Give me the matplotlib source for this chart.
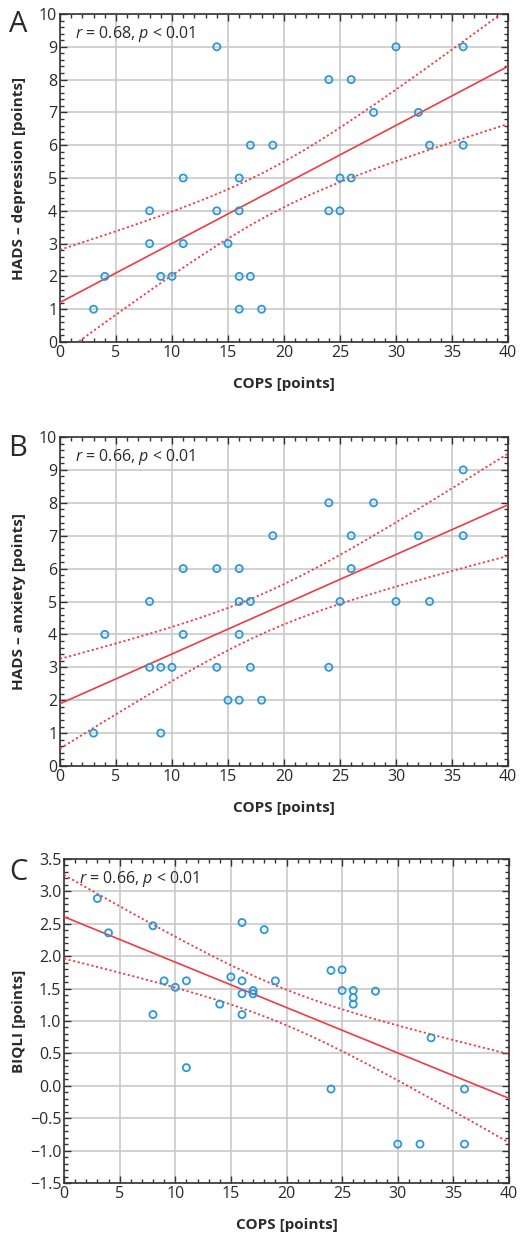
import numpy as np
import matplotlib.pyplot as plt
from matplotlib.ticker import MultipleLocator

plt.rcParams['font.family'] = ['Open Sans', 'DejaVu Sans']
plt.rcParams['mathtext.fontset'] = 'custom'
plt.rcParams['mathtext.rm'] = 'Open Sans'
plt.rcParams['mathtext.it'] = 'Open Sans:italic'

# COPS scores and the three outcome scores per patient
cops_a = [3, 4, 8, 8, 9, 10, 11, 11, 14, 14, 15, 16, 16, 16, 16, 17, 17, 18, 19,
          24, 26, 28, 30, 32, 33, 36, 36, 25, 26, 24, 25]
hads_dep = [1, 2, 4, 3, 2, 2, 5, 3, 9, 4, 3, 5, 4, 2, 1, 6, 2, 1, 6,
            8, 8, 7, 9, 7, 6, 9, 6, 5, 5, 4, 4]

cops_b = [3, 4, 8, 8, 9, 9, 10, 11, 11, 14, 14, 15, 16, 16, 16, 16, 17, 17, 18, 19,
          24, 28, 26, 32, 36, 36, 26, 25, 30, 33, 24]
hads_anx = [1, 4, 5, 3, 3, 1, 3, 6, 4, 6, 3, 2, 6, 5, 4, 2, 5, 3, 2, 7,
            8, 8, 7, 7, 9, 7, 6, 5, 5, 5, 3]

cops_c = [3, 4, 8, 8, 9, 10, 11, 11, 14, 15, 16, 16, 16, 16, 17, 17, 18, 19,
          24, 25, 25, 26, 26, 26, 28, 33, 24, 36, 30, 32, 36]
biqli = [2.89, 2.36, 2.47, 1.10, 1.62, 1.52, 1.62, 0.28, 1.26, 1.68, 2.52, 1.62, 1.42, 1.10,
         1.47, 1.42, 2.41, 1.62,
         1.78, 1.79, 1.47, 1.47, 1.36, 1.26, 1.46, 0.74, -0.05, -0.05, -0.90, -0.90, -0.90]

stat_labels = ['0.68', '0.66', '0.66']
y_labels = ['HADS \u2013 depression [points]', 'HADS \u2013 anxiety [points]', 'BIQLI [points]']
panel_letters = ['A', 'B', 'C']

T_CRIT = 2.045  # t(0.975, df=29)

RED = '#ee3b45'
BLUE = '#2b98d8'
TXT = '#2a2a2a'

W, H = 520, 1238
fig = plt.figure(figsize=(W / 100, H / 100), dpi=100)


def px_axes(x0, x1, y0, y1):
    ax = fig.add_axes([x0 / W, 1 - y1 / H, (x1 - x0) / W, (y1 - y0) / H])
    ax._px_x = (x0, x1)
    return ax


def draw_panel(ax, x, y, ylim, ymajor, yminor, ylabel, stat, yfmt):
    x = np.array(x, dtype=float)
    y = np.array(y, dtype=float)
    n = len(x)
    b, a = np.polyfit(x, y, 1)
    resid = y - (a + b * x)
    s = np.sqrt(np.sum(resid ** 2) / (n - 2))
    sxx = np.sum((x - x.mean()) ** 2)
    xs = np.linspace(0, 40, 200)
    fit = a + b * xs
    half = T_CRIT * s * np.sqrt(1 / n + (xs - x.mean()) ** 2 / sxx)

    ax.plot(xs, fit, color=RED, lw=1.2, zorder=3)
    ax.plot(xs, fit + half, color=RED, lw=1.3, ls=(0, (1.2, 1.4)), zorder=3)
    ax.plot(xs, fit - half, color=RED, lw=1.3, ls=(0, (1.2, 1.4)), zorder=3)
    ax.scatter(x, y, s=26, facecolors='none', edgecolors=BLUE, linewidths=1.3, zorder=4)

    ax.set_xlim(0, 40)
    ax.set_ylim(*ylim)
    ax.xaxis.set_major_locator(MultipleLocator(5))
    ax.xaxis.set_minor_locator(MultipleLocator(1))
    ax.yaxis.set_major_locator(MultipleLocator(ymajor))
    ax.yaxis.set_minor_locator(MultipleLocator(yminor))
    ax.yaxis.set_major_formatter(yfmt)
    ax.grid(True, which='major', color='#c9c9c9', lw=1.2, zorder=0)
    ax.set_axisbelow(True)
    ax.tick_params(which='both', direction='in', top=True, right=True,
                   colors='#333333', labelcolor=TXT, labelsize=11.5, width=1)
    ax.tick_params(which='major', length=5, pad=2)
    ax.tick_params(which='minor', length=3)
    for sp in ax.spines.values():
        sp.set_color('#333333')
        sp.set_linewidth(1.2)

    ax.set_xlabel('COPS [points]', fontsize=11, fontweight='bold', color=TXT, labelpad=12)
    ax.set_ylabel(ylabel, fontsize=11, fontweight='bold', color=TXT)
    # same y label position for every panel
    x0, x1 = ax._px_x
    ax.yaxis.set_label_coords((26 - x0) / (x1 - x0), 0.5)
    ax.text(0.033, 0.97, '$r$ = ' + stat + ', $p$ < 0.01', transform=ax.transAxes,
            ha='left', va='top', fontsize=11.5, color=TXT)
    return ax


def int_fmt(v, pos):
    return '%d' % v


def dec_fmt(v, pos):
    return ('%.1f' % v).replace('-', '\u2212')


ax_a = px_axes(60, 508, 14, 342)
draw_panel(ax_a, cops_a, hads_dep, (0, 10), 1, 0.2, y_labels[0], stat_labels[0], int_fmt)
ax_b = px_axes(60, 508, 437, 766)
draw_panel(ax_b, cops_b, hads_anx, (0, 10), 1, 0.2, y_labels[1], stat_labels[1], int_fmt)
ax_c = px_axes(64, 509, 859, 1183)
draw_panel(ax_c, cops_c, biqli, (-1.5, 3.5), 0.5, 0.1, y_labels[2], stat_labels[2], dec_fmt)

for letter, yc in zip(panel_letters, [24, 448, 873]):
    fig.text(18 / W, 1 - yc / H, letter, fontsize=21, color=TXT, ha='center', va='center')

fig.savefig('out.png', dpi=100, facecolor='white')
